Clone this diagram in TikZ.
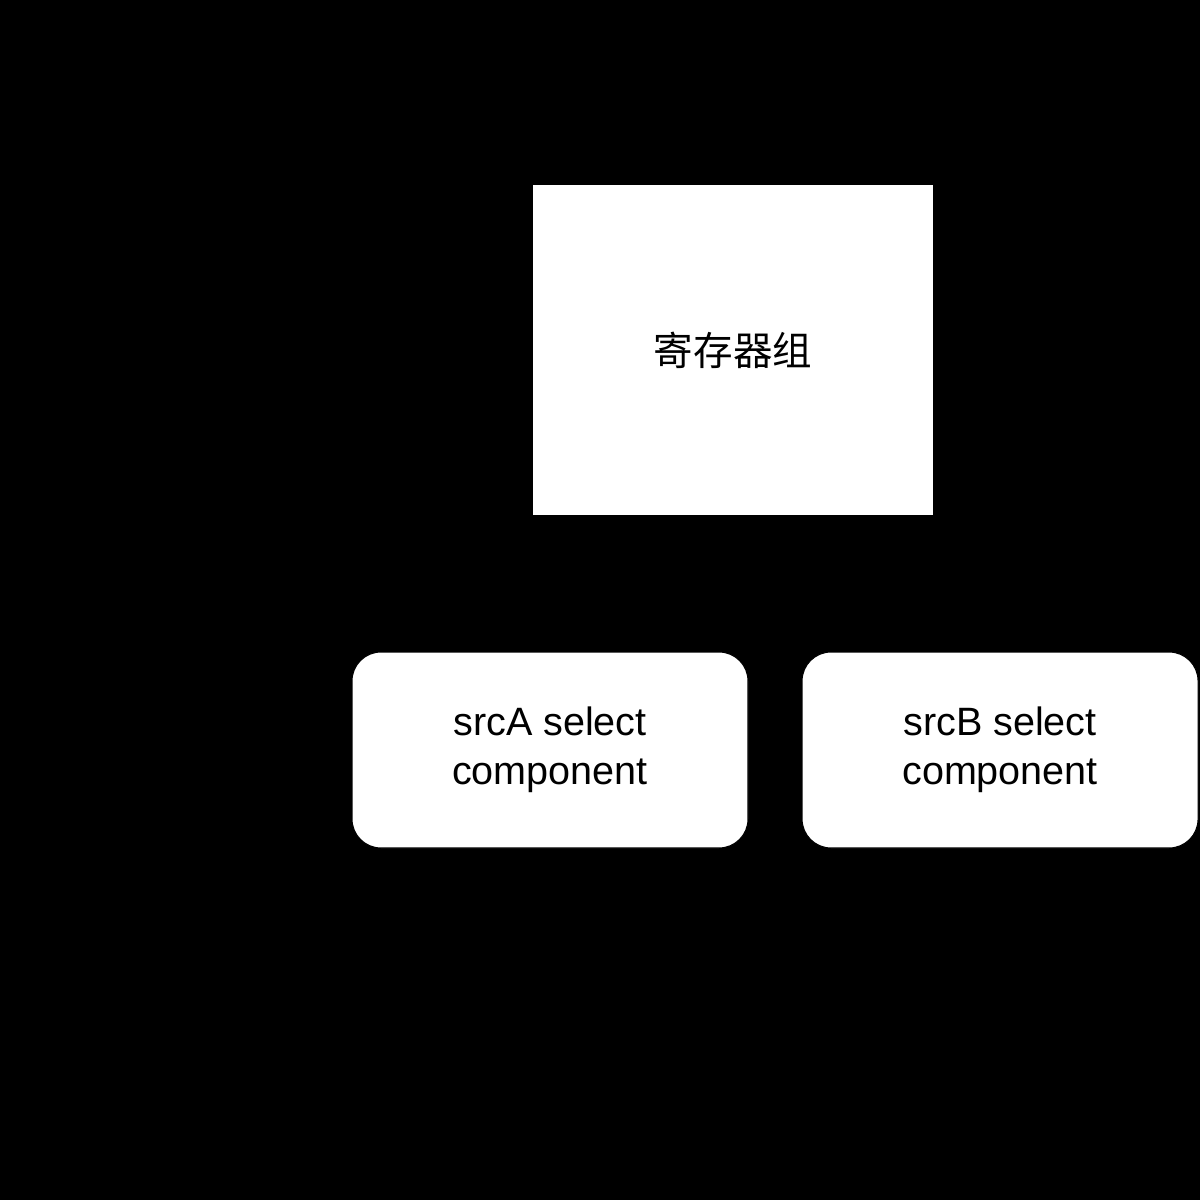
\documentclass[tikz,border=0pt]{standalone}
\usepackage{fontspec}
\setmainfont{Liberation Sans}
\newfontfamily\cjk{Noto Sans CJK SC}
\usetikzlibrary{positioning}

\tikzset{
    regbox/.style={draw=black, fill=white, line width=0.6pt, minimum width=8.04cm, minimum height=6.64cm, inner sep=0pt, font=\cjk\fontsize{22.5}{27}\selectfont},
    selbox/.style={draw=black, fill=white, line width=0.6pt, rounded corners=0.58cm, minimum width=7.92cm, minimum height=3.92cm, inner sep=0pt, align=center, font=\fontsize{22.5}{28}\selectfont}
}

\begin{document}
\begin{tikzpicture}
\fill[black] (0,0) rectangle (24,-24);
\useasboundingbox (0,0) rectangle (24,-24);

\node[regbox] (regs) at (14.66,-7.0) {寄存器组};

\node[selbox] (srcA) at (11.0,-15.0) {srcA select\\component};
\node[selbox, right=1.06cm of srcA] (srcB) {srcB select\\component};
\end{tikzpicture}
\end{document}
